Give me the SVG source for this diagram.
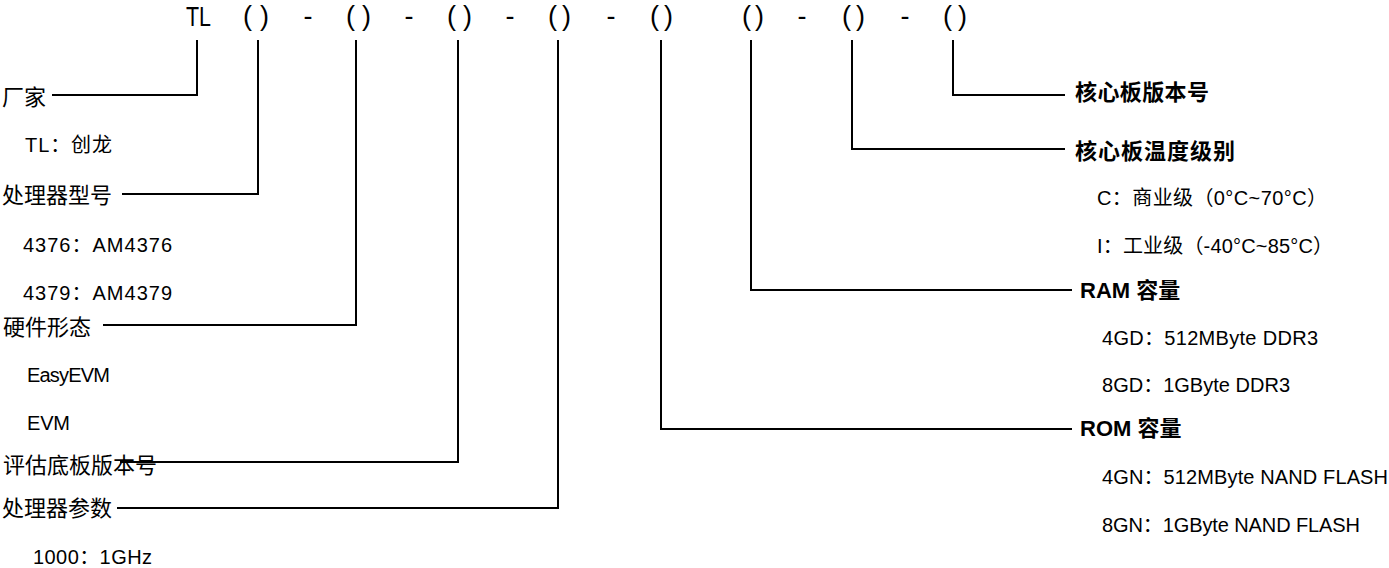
<svg xmlns="http://www.w3.org/2000/svg" width="1389" height="568" viewBox="0 0 1389 568">
<style>
.code{font-family:"Liberation Sans",Arial,sans-serif;font-size:27px;fill:#000}
.hl{font-family:"Noto Sans CJK SC","Liberation Sans",sans-serif;font-size:22px;fill:#000}
.hr{font-family:"Liberation Sans","Noto Sans CJK SC",sans-serif;font-size:22px;font-weight:bold;fill:#000}
.sub{font-family:"Liberation Sans","Noto Sans CJK SC",sans-serif;font-size:20px;fill:#000}
.ln{fill:none;stroke:#000;stroke-width:2}
</style>
<rect width="1389" height="568" fill="#fff"/>
<g id="code">
<text class="code" x="186" y="26" style="font-size:28px" textLength="25" lengthAdjust="spacingAndGlyphs">TL</text>
<text class="code" x="243" y="25" textLength="26" lengthAdjust="spacing">( )</text>
<text class="code" x="346" y="25" textLength="25" lengthAdjust="spacing">( )</text>
<text class="code" x="447" y="25" textLength="25" lengthAdjust="spacing">( )</text>
<text class="code" x="548" y="25" textLength="23" lengthAdjust="spacing">( )</text>
<text class="code" x="650" y="25" textLength="23" lengthAdjust="spacing">( )</text>
<text class="code" x="742" y="25" textLength="22" lengthAdjust="spacing">( )</text>
<text class="code" x="842" y="25" textLength="23" lengthAdjust="spacing">( )</text>
<text class="code" x="943" y="25" textLength="24" lengthAdjust="spacing">( )</text>
<g text-anchor="middle">
<text class="code" x="308" y="25">-</text>
<text class="code" x="409" y="25">-</text>
<text class="code" x="510" y="25">-</text>
<text class="code" x="611" y="25">-</text>
<text class="code" x="802" y="25">-</text>
<text class="code" x="905" y="25">-</text>
</g>
</g>
<g id="connectors">
<polyline class="ln" points="197,40 197,95 52,95"/>
<polyline class="ln" points="258,40 258,194 122,194"/>
<polyline class="ln" points="356,40 356,325 103,325"/>
<polyline class="ln" points="458,40 458,462 120,462"/>
<polyline class="ln" points="558,40 558,508 117,508"/>
<polyline class="ln" points="661,40 661,429 1072,429"/>
<polyline class="ln" points="751,40 751,290 1072,290"/>
<polyline class="ln" points="852,40 852,149 1065,149"/>
<polyline class="ln" points="953,40 953,95 1065,95"/>
</g>
<g id="vendor">
<text class="hl" x="2" y="105">厂家</text>
<text class="sub" x="25" y="152" textLength="87">TL：创龙</text>
</g>
<g id="cpu-model">
<text class="hl" x="2" y="203">处理器型号</text>
<text class="sub" x="23" y="252" textLength="149">4376：AM4376</text>
<text class="sub" x="23" y="300" textLength="149">4379：AM4379</text>
</g>
<g id="hardware-form">
<text class="hl" x="3" y="335">硬件形态</text>
<text class="sub" x="27" y="382" textLength="83">EasyEVM</text>
<text class="sub" x="27" y="430" textLength="43">EVM</text>
</g>
<g id="board-version">
<text class="hl" x="3" y="473">评估底板版本号</text>
</g>
<g id="cpu-param">
<text class="hl" x="2" y="516">处理器参数</text>
<text class="sub" x="33" y="564" textLength="119">1000：1GHz</text>
</g>
<g id="rom">
<text class="hr" x="1080" y="436">ROM 容量</text>
<text class="sub" x="1102" y="484" textLength="286">4GN：512MByte NAND FLASH</text>
<text class="sub" x="1102" y="532" textLength="258">8GN：1GByte NAND FLASH</text>
</g>
<g id="ram">
<text class="hr" x="1080" y="298">RAM 容量</text>
<text class="sub" x="1102" y="345" textLength="216">4GD：512MByte DDR3</text>
<text class="sub" x="1102" y="392" textLength="188">8GD：1GByte DDR3</text>
</g>
<g id="temp-grade">
<text class="hr" x="1075" y="159" textLength="160">核心板温度级别</text>
<text class="sub" x="1097" y="205" textLength="230">C：商业级（0°C~70°C）</text>
<text class="sub" x="1097" y="253" textLength="236">I：工业级（-40°C~85°C）</text>
</g>
<g id="core-version">
<text class="hr" x="1075" y="100" textLength="134">核心板版本号</text>
</g>
</svg>
